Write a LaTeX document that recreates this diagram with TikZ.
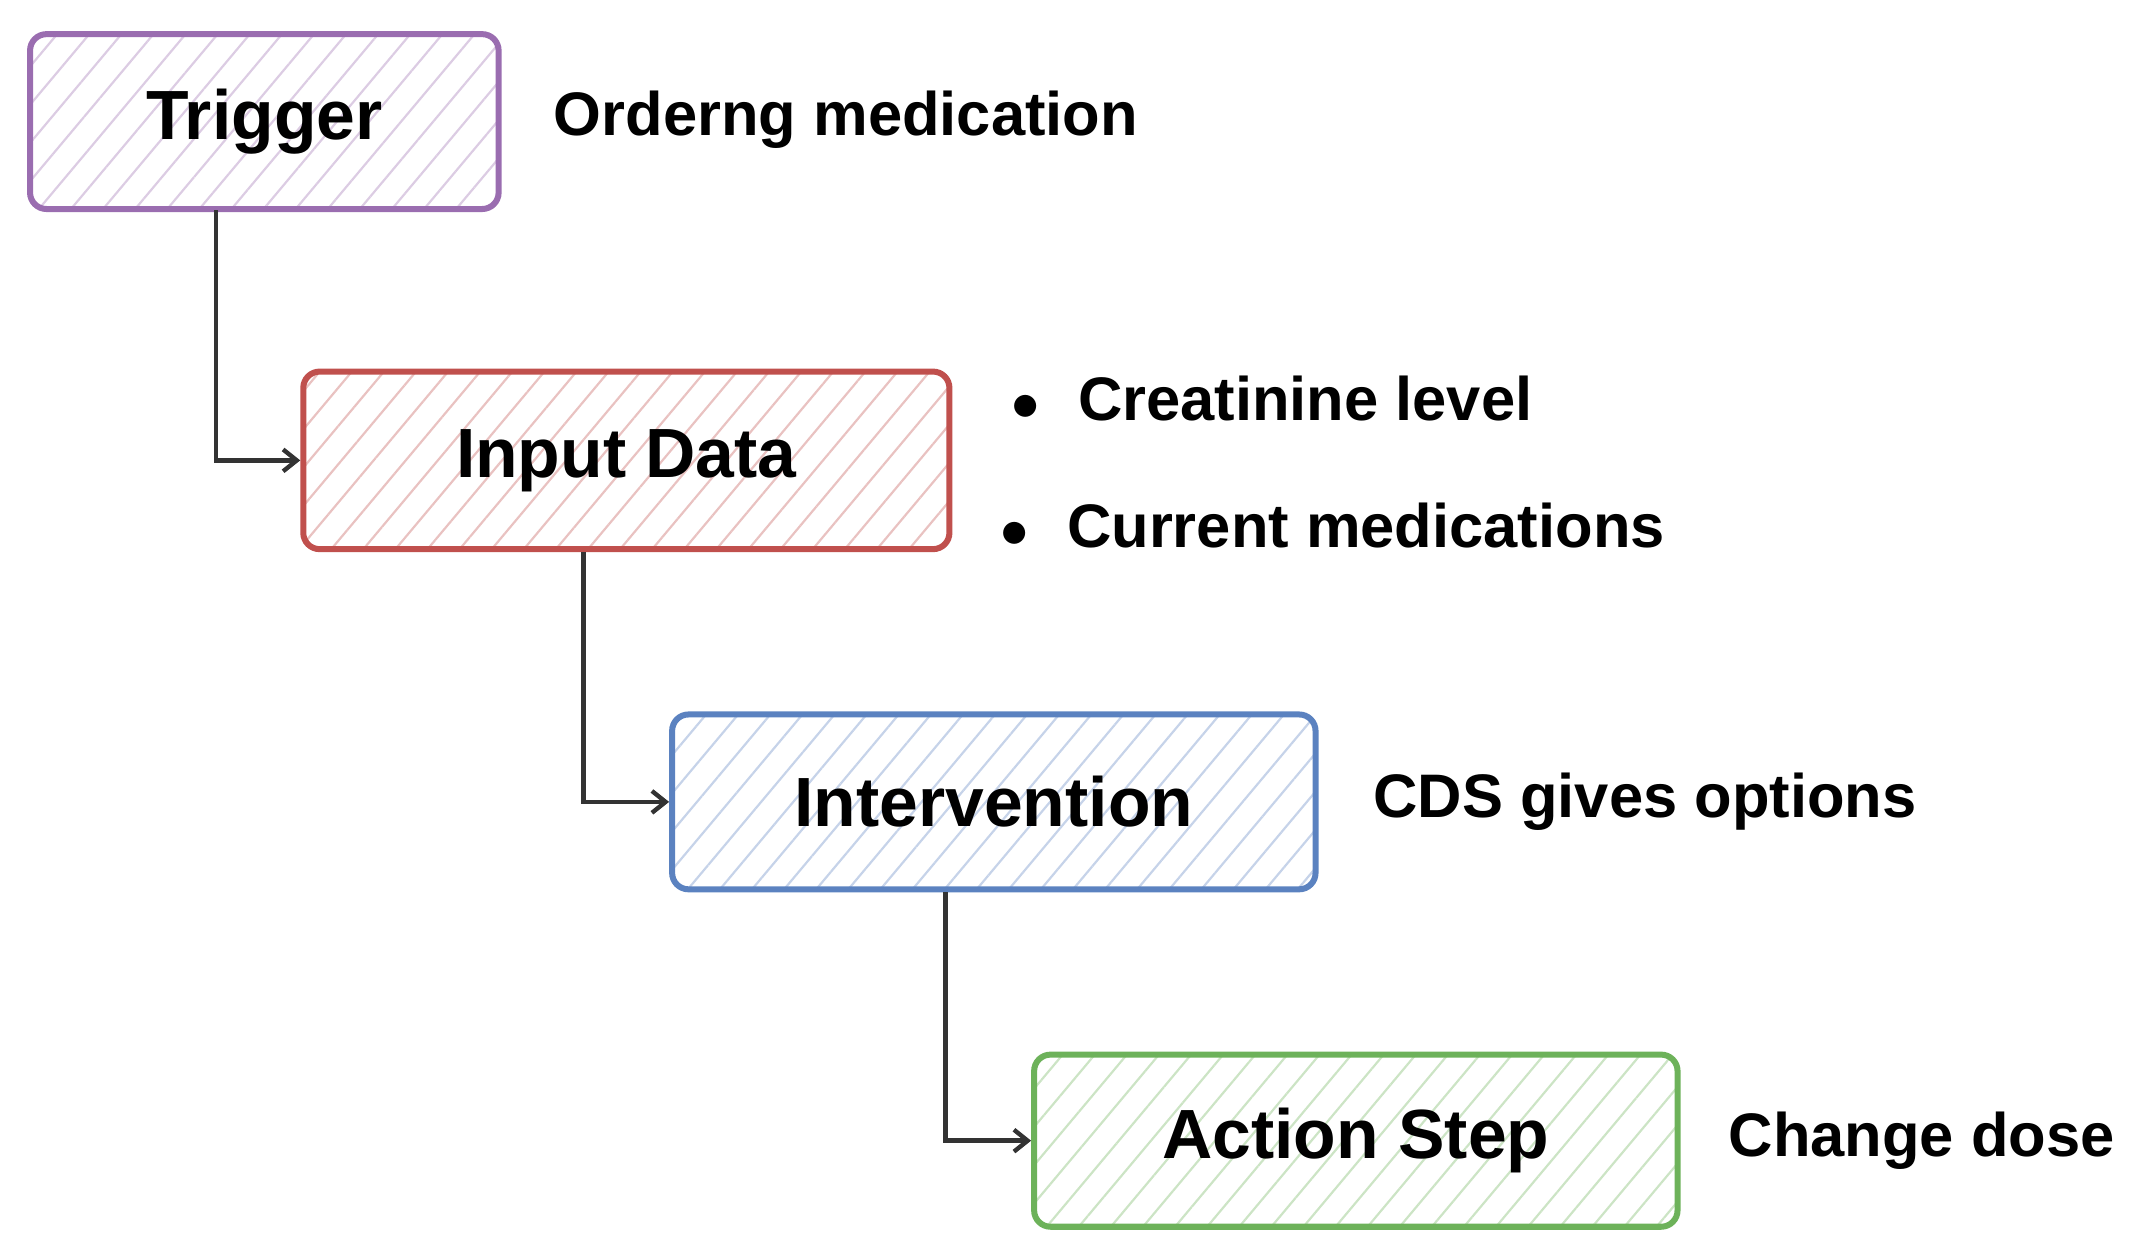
\documentclass[tikz,border=0pt]{standalone}
\usepackage{fontspec}
\setmainfont{Liberation Sans}
\usetikzlibrary{patterns.meta,arrows.meta}
\definecolor{cpur}{HTML}{9A6DB0}
\definecolor{cred}{HTML}{C0504D}
\definecolor{cblu}{HTML}{5B82C0}
\definecolor{cgrn}{HTML}{6DB25A}
\begin{document}
\begin{tikzpicture}[x=0.5pt,y=-0.5pt,
  box/.style={draw=#1,line width=2.2pt,rounded corners=6pt,
    pattern={Lines[angle=50,distance=9pt,line width=0.8pt]},pattern color=#1!35,
    font=\bfseries\fontsize{25.5}{28}\selectfont,inner sep=0pt},
  lab/.style={anchor=west,font=\bfseries\fontsize{22.5}{26}\selectfont,inner sep=0pt},
  con/.style={draw=black!80,line width=1.6pt,-{Straight Barb[length=5pt,width=8pt]}}]
\useasboundingbox (0,0) rectangle (1568,915);
\node[box=cpur,minimum width=171.5pt,minimum height=64pt] (t) at (193.5,89) {Trigger};
\node[box=cred,minimum width=236.5pt,minimum height=65pt] (i) at (458.5,337) {Input Data};
\node[box=cblu,minimum width=235.5pt,minimum height=64pt] (v) at (727.5,587) {Intervention};
\node[box=cgrn,minimum width=235.5pt,minimum height=63pt] (a) at (992.5,835) {Action Step};
\node[lab] (lt) at (405,88) {Orderng medication};
\node[lab] (l1) at (740,292) {$\bullet$\hspace{14pt}Creatinine level};
\node[lab] (l2) at (732,385) {$\bullet$\hspace{14pt}Current medications};
\node[lab] (lv) at (1005,587) {CDS gives options};
\node[lab] (la) at (1265,835) {Change dose};
\coordinate (c1) at (158,337);
\coordinate (c2) at (427,587);
\coordinate (c3) at (692,835);
\draw[con] (t.south -| c1) -- (c1) -- (i.west);
\draw[con] (i.south -| c2) -- (c2) -- (v.west);
\draw[con] (v.south -| c3) -- (c3) -- (a.west);
\end{tikzpicture}
\end{document}
